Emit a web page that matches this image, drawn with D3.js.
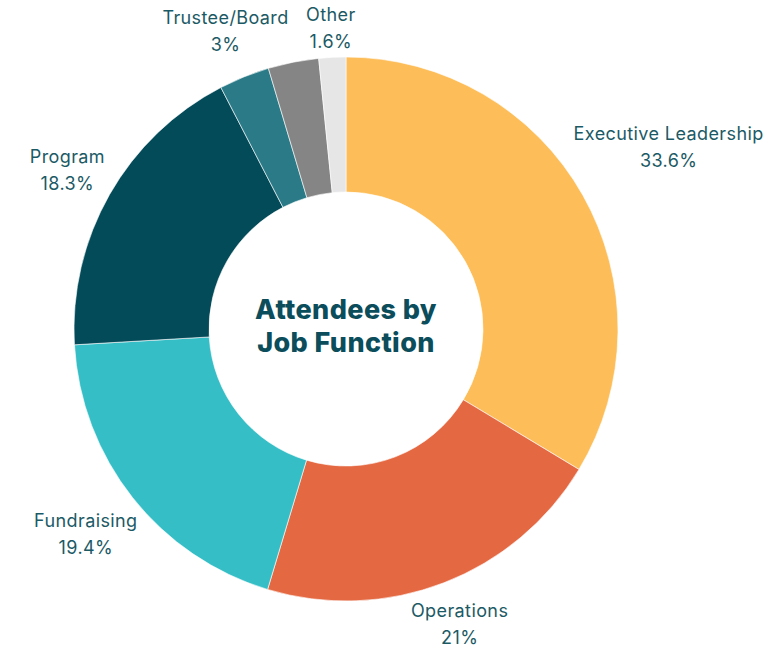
<!DOCTYPE html>
<html>
<head>
<meta charset="utf-8">
<script src="https://cdn.jsdelivr.net/npm/d3@7"></script>
<style>
  html, body { margin: 0; padding: 0; background: #ffffff; }
  svg { display: block; }
</style>
</head>
<body>
<svg id="chart" width="774" height="648"></svg>
<script>
// slices clockwise from 12 o'clock
var categories = ['Executive Leadership', 'Operations', 'Fundraising', 'Program', 'Trustee/Board', '', 'Other'];
var shares = [33.6, 21, 19.4, 18.3, 3, 3, 1.6];
var colors = ['#fdbe5a', '#e46841', '#35bec6', '#044b5a', '#2a7b87', '#858585', '#e6e6e6'];
var title_lines = ['Attendees by', 'Job Function'];

var width = 774, height = 648;
var cx = 346, cy = 329;
var outer_radius = 272, inner_radius = 137;
var label_gap = 4;
var font = 'Inter, "Noto Sans", sans-serif';
var text_color = '#1b5a65';

var data = categories.map((c, i) => ({name: c, value: shares[i], color: colors[i]}));

var svg = d3.select('#chart');
var g = svg.append('g').attr('transform', 'translate(' + cx + ',' + cy + ')');

var pie = d3.pie().sort(null).value(d => d.value);
var arcs = pie(data);

var arc = d3.arc().innerRadius(inner_radius).outerRadius(outer_radius);

g.append('g')
  .selectAll('path')
  .data(arcs)
  .enter()
  .append('path')
  .attr('d', arc)
  .attr('fill', d => d.data.color)
  .attr('stroke', '#ffffff')
  .attr('stroke-width', 0.6);

// labels: centre sits on the mid angle, pushed out by the projected half size of the box
var labels = g.append('g')
  .selectAll('text')
  .data(arcs.filter(d => d.data.name !== ''))
  .enter()
  .append('text')
  .attr('text-anchor', 'middle')
  .style('font-family', font)
  .style('font-size', '18px')
  .style('letter-spacing', '0.4px')
  .style('fill', text_color);

labels.append('tspan').attr('x', 0).attr('dy', 0).text(d => d.data.name);
labels.append('tspan').attr('x', 0).attr('dy', 27).text(d => d.data.value + '%');

labels.each(function (d) {
  var box = this.getBBox();
  var mid = (d.startAngle + d.endAngle) / 2;
  var dx = Math.sin(mid), dy = -Math.cos(mid);
  var r = outer_radius + label_gap + Math.abs(dx) * box.width / 2 + Math.abs(dy) * box.height / 2;
  var ox = dx * r - (box.x + box.width / 2);
  var oy = dy * r - (box.y + box.height / 2);
  d3.select(this).attr('transform', 'translate(' + ox + ',' + oy + ')');
});

// centre title
var title = g.append('text')
  .attr('text-anchor', 'middle')
  .style('font-family', font)
  .style('font-size', '27px')
  .style('font-weight', 800)
  .style('letter-spacing', '0.4px')
  .style('fill', '#0b4d5b');

title.selectAll('tspan')
  .data(title_lines)
  .enter()
  .append('tspan')
  .attr('x', 0)
  .attr('y', (d, i) => -10 + i * 33)
  .text(d => d);
</script>
</body>
</html>
